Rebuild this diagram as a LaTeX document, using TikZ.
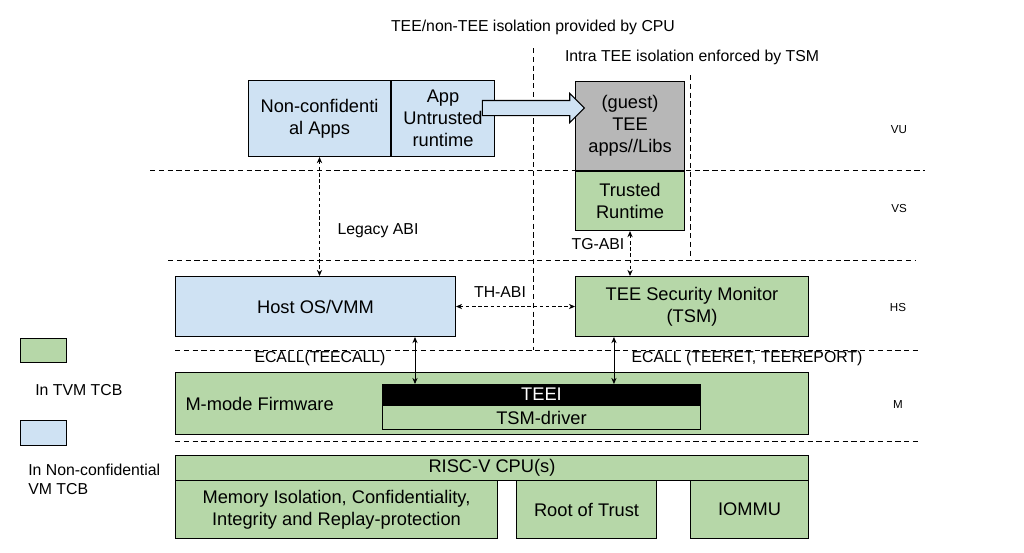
\documentclass[tikz,border=0pt]{standalone}
\usepackage{fontspec}
\setmainfont{Liberation Sans}
\usetikzlibrary{positioning,shapes.arrows,arrows.meta}

\definecolor{ncblue}{HTML}{CFE2F3}
\definecolor{tvmgreen}{HTML}{B6D7A8}
\definecolor{libgray}{HTML}{B7B7B7}

\tikzset{
  box/.style={draw, line width=0.6pt, inner sep=0pt, align=center, anchor=north west,
    font=\fontsize{10.4}{12.6}\selectfont},
  ncbox/.style={box, fill=ncblue},
  tcbbox/.style={box, fill=tvmgreen},
  size/.style 2 args={minimum width=#1cm, minimum height=#2cm},
  sep/.style={dash pattern=on 3pt off 2pt, line width=0.5pt},
  lbl/.style={font=\fontsize{9}{10.8}\selectfont, inner sep=0pt, align=left},
  mode/.style={font=\fontsize{6.6}{8}\selectfont, inner sep=0pt},
  abi/.style={dash pattern=on 2pt off 1.5pt, line width=0.5pt,
    {Stealth[length=3.5pt,width=3pt]}-{Stealth[length=3.5pt,width=3pt]}},
  call/.style={line width=0.5pt,
    {Stealth[length=3.5pt,width=3pt]}-{Stealth[length=3.5pt,width=3pt]}},
}

\begin{document}
\begin{tikzpicture}[x=0.02cm, y=-0.02cm]
  \useasboundingbox (0,0) rectangle (1024,552);

  % privilege levels
  \draw[sep] (150,170) -- (925,170);
  \draw[sep] (168,260) -- (915,260);
  \draw[sep] (175,350) -- (920,350);
  \draw[sep] (175,441) -- (920,441);
  \draw[sep] (533,48) -- (533,350);
  \draw[sep] (690,75) -- (690,258);

  \node[lbl] (cpuiso) at (533,27) {TEE/non-TEE isolation provided by CPU};
  \node[lbl] (tsmiso) at (692,57) {Intra TEE isolation enforced by TSM};

  \node[mode] (vu) at (899,130) {VU};
  \node[mode] (vs) at (899,208) {VS};
  \node[mode] (hs) at (898,307) {HS};
  \node[mode] (m)  at (898,404) {M};

  % VU / VS
  \node[ncbox, size={2.84}{1.52}] (ncapps) at (248,80) {Non-confidenti\\al Apps};
  \node[ncbox, size={2.06}{1.52}, right=0cm of ncapps] (untrt) {App\\Untrusted\\runtime};
  \node[box, fill=libgray, size={2.18}{1.78}] (teeapps) at (575,81) {(guest)\\TEE\\apps//Libs};
  \node[tcbbox, size={2.18}{1.18}, below=0cm of teeapps] (trt) {Trusted\\Runtime};
  \node[single arrow, draw, line width=0.6pt, fill=ncblue, anchor=tip,
    minimum height=2.04cm, inner xsep=0pt, inner ysep=0.14cm,
    single arrow head extend=0.14cm] (move) at (585,108) {};

  % HS
  \node[ncbox, size={5.6}{1.2}] (hostos) at (175,276) {Host OS/VMM};
  \node[tcbbox, size={4.66}{1.2}] (tsm) at (575,276) {TEE Security Monitor\\(TSM)};

  % M
  \node[tcbbox, size={12.66}{1.24}] (fw) at (175,372) {};
  \node[box, draw=none, anchor=west, right=0.2cm of fw.west] (fwname) {M-mode Firmware};
  \node[box, fill=black, text=white, size={6.36}{0.4}] (teei) at (382,384) {TEEI};
  \node[tcbbox, size={6.36}{0.48}, below=0cm of teei] (tsmdrv) {TSM-driver};

  % hardware
  \node[tcbbox, size={12.66}{0.5}] (cpu) at (175,455) {RISC-V CPU(s)};
  \node[tcbbox, size={6.44}{1.16}] (memiso) at (175,480) {Memory Isolation, Confidentiality,\\Integrity and Replay-protection};
  \node[tcbbox, size={2.8}{1.16}] (rot) at (516,480) {Root of Trust};
  \node[tcbbox, size={2.36}{1.16}] (iommu) at (690,480) {IOMMU};

  % interfaces
  \coordinate (hostcall) at ([xshift=0.66cm]teei.north west);
  \coordinate (tsmcall) at ([xshift=4.64cm]teei.north west);
  \draw[abi] (ncapps.south) -- (ncapps.south |- hostos.north);
  \draw[abi] (trt.south) -- (trt.south |- tsm.north);
  \draw[abi] (hostos.east) -- (tsm.west);
  \draw[call] (hostcall |- hostos.south) -- (hostcall);
  \draw[call] (tsmcall |- tsm.south) -- (tsmcall);

  \node[lbl] (legacy) at (378,231) {Legacy ABI};
  \node[lbl] (tgabi) at (598,244) {TG-ABI};
  \node[lbl] (thabi) at (500,292) {TH-ABI};
  \node[lbl] (teecall) at (320,358) {ECALL(TEECALL)};
  \node[lbl] (teeret) at (747,358) {ECALL (TEERET, TEEREPORT)};

  % legend
  \node[tcbbox, size={0.92}{0.48}] (keytvm) at (20,338) {};
  \node[lbl, anchor=west] (keytvmtxt) at (35,390) {In TVM TCB};
  \node[ncbox, size={0.92}{0.5}] (keync) at (20,420) {};
  \node[lbl, anchor=west] (keynctxt) at (28,479) {In Non-confidential\\VM TCB};
\end{tikzpicture}
\end{document}
